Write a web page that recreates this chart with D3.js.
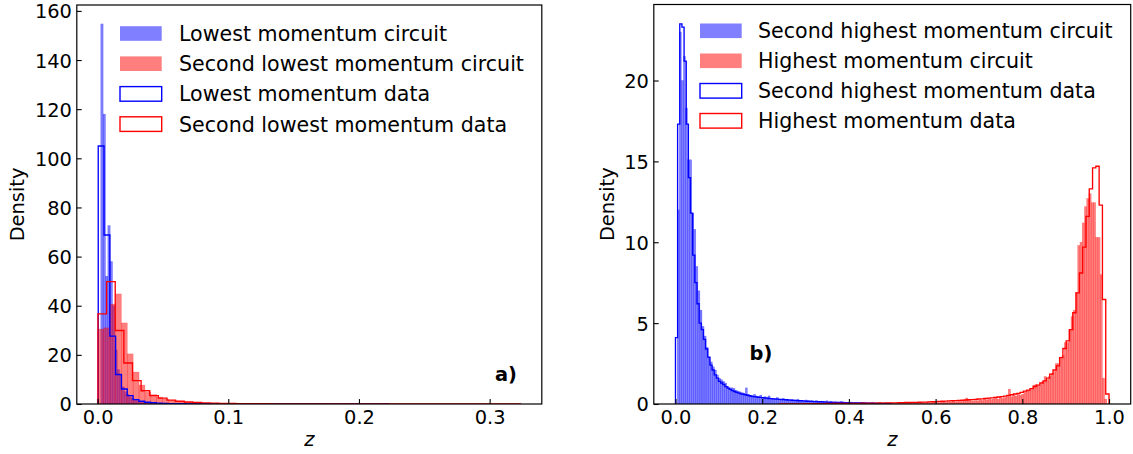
<!DOCTYPE html>
<html><head><meta charset="utf-8">
<script src="https://cdn.jsdelivr.net/npm/d3@7"></script>
<style>
body{margin:0;background:#fff}
svg{display:block}
text{font-family:"DejaVu Sans",sans-serif;fill:#000}
</style>
</head><body>
<svg id="chart" width="1133" height="454"></svg>
<script>
// ---------------- DATA (densities) ----------------
// Panel a)
const lowestCircuitStart = 0.00245, lowestCircuitBin = 0.0018;
const lowestCircuit = [154.7,118,52,72.6,58,40,22,14,12,7,5,4,3,2.5,2,1.5,1.2,1,0.8,0.6,0.5,0.4,0.3,0.25,0.2,0.15,0.1,0.1,0.08,0.06,0.05,0.04,0.03,0.03,0.02,0.02,0.01,0.01,0.01,0.01,0,0.01,0,0,0.01,0,0,0,0,0.01];

const secondLowestCircuitStart = 0.00015, secondLowestCircuitBin = 0.00451;
const secondLowestCircuit = [30.5,31,40.7,44.8,33,20.4,13,7.7,4.8,3.8,2.8,2.0,1.5,1.2,0.9,0.7,0.5,0.4,0.3,0.25,0.2,0.15,0.12,0.1,0.08,0.06,0.05,0.04,0.03,0.03,0.02,0.02,0.01,0.01,0.01,0.01,0.01,0,0.01,0,0,0,0.01,0,0,0,0,0,0,0.01];

const lowestDataStart = 0.0005, lowestDataBin = 0.00444;
const lowestData = [105,68.8,27.6,12,6.1,3.4,1.8,1.1,0.7,0.5,0.35,0.25,0.18,0.13,0.1,0.08,0.06,0.05,0.04,0.03,0.03,0.02,0.02,0.01,0.01,0.01,0.01,0.01,0,0.01,0,0,0.01,0,0,0,0,0,0,0,0,0,0,0,0,0,0,0,0,0.005];

const secondLowestDataStart = 0.0003, secondLowestDataBin = 0.0066;
const secondLowestData = [36.7,49.8,29.9,16.7,9.5,5.4,3.4,2.4,1.6,1.1,0.8,0.6,0.45,0.35,0.28,0.22,0.18,0.14,0.12,0.1,0.08,0.07,0.06,0.05,0.04,0.035,0.03,0.025,0.02,0.02,0.015,0.015,0.01,0.01,0.01,0.008,0.008,0.006,0.005,0.005,0.004,0.004,0.003,0.003,0.003,0.002,0.002,0.002,0.002];

// Panel b)
const secondHighestCircuitStart = 0.004, secondHighestCircuitBin = 0.00476;
const secondHighestCircuit = [12.0,23.0,20.0,21.5,18.3,15.1,15.1,11.8,10.8,8.5,7.0,5.8,4.8,4.2,3.5,2.9,2.6,2.3,2.1,1.8,1.6,1.5,1.4,1.3,1.1,1.0,1.0,0.97,0.85,0.8,0.75,0.7,0.65,1.0,0.6,0.55,0.5,0.6,0.5,0.45,0.55,0.4,0.45,0.4,0.5,0.35,
0.35,0.3,0.4,0.3,0.28,0.35,0.25,0.3,0.22,0.28,0.2,0.25,0.3,0.2,0.22,0.18,0.25,0.2,0.15,0.2,0.18,0.22,0.15,0.12,0.18,0.15,0.2,0.12,0.15,0.1,0.14,0.12,0.1,0.15,0.1,0.12,0.08,0.1,0.12,0.08,0.1,0.07,0.09,0.1,0.06,0.08,0.07,0.05,0.08,0.06,0.05,0.07,0.04,0.05];

const highestCircuitStart = 0.478, highestCircuitBin = 0.00517;
const highestCircuit = [0.01,0.01,0.02,0.01,0.02,0.02,0.03,0.02,0.03,0.04,0.03,0.06,0.04,0.05,0.06,0.07,0.05,0.09,0.06,0.08,0.1,0.07,0.1,0.12,0.08,0.1,0.14,0.12,0.1,0.15,0.12,0.18,0.12,0.15,0.2,0.15,0.18,0.37,0.25,0.2,0.18,0.22,0.2,0.25,0.22,0.3,0.25,0.35,0.28,0.3,0.35,0.3,0.42,0.35,0.4,0.45,0.92,0.45,0.55,0.5,0.65,0.55,0.6,0.75,0.8,0.85,0.9,1.17,1.2,1.1,1.2,1.4,1.7,1.5,1.7,1.9,2.0,2.5,2.5,2.9,3.0,3.8,3.8,4.6,5.4,5.8,6.9,9.8,10.0,11.2,12.2,12.7,13.0,12.45,12.45,10.3,10.3,8.0,1.6,0.3];

const secondHighestDataStart = 0.0, secondHighestDataBin = 0.00496;
const secondHighestData = [4.1,17.3,23.5,23.3,21.2,17.3,14.0,11.8,9.2,7.5,6.2,5.0,4.6,4.0,3.4,2.9,2.4,2.1,1.8,1.6,1.4,1.3,1.2,1.07,0.98,0.9,0.83,0.77,0.72,0.67,0.63,0.6,0.57,0.54,0.51,0.48,0.46,0.44,0.42,0.41,0.39,0.37,0.36,0.34,0.33,0.32,0.31,0.3,0.29,0.28,0.27,0.26,0.25,0.24,0.23,0.22,0.21,0.2,0.2,0.19,0.18,0.17,0.17,0.16,0.15,0.15,0.14,0.14,0.13,0.12,0.12,0.11,0.11,0.1,0.1,0.1,0.09,0.09,0.08,0.08,0.08,0.07,0.07,0.07,0.06,0.06,0.06,0.06,0.05,0.05,0.05,0.05,0.05,0.04,0.04,0.04,0.04,0.04,0.03,0.03];

const highestDataStart = 0.24, highestDataBin = 0.0076;
const highestData = [0.01,0.01,0.01,0.01,0.01,0.01,0.01,0.02,0.01,0.02,0.02,0.02,0.02,0.02,0.03,0.02,0.03,0.03,0.03,0.03,0.04,0.03,0.04,0.04,0.04,0.05,0.04,0.05,0.05,0.05,0.06,0.05,0.06,0.06,0.07,
0.07,0.08,0.08,0.09,0.09,0.1,0.1,0.11,0.12,0.12,0.13,0.14,0.15,0.16,0.17,0.18,0.19,0.2,0.21,0.22,0.23,0.25,0.26,0.27,0.29,0.31,0.32,0.34,0.36,0.38,0.4,0.43,0.46,0.49,0.53,0.57,0.62,0.66,0.72,0.8,0.86,0.95,1.08,1.17,1.3,1.43,1.6,1.85,2.1,2.36,2.87,3.43,3.9,4.6,5.64,6.87,8.1,9.7,11.6,13.3,14.6,14.7,12.3,6.46,0.62];

// Tick labels
const leftXTicks = [0, 0.1, 0.2, 0.3];
const leftYTicks = [0, 20, 40, 60, 80, 100, 120, 140, 160];
const rightXTicks = [0, 0.2, 0.4, 0.6, 0.8, 1.0];
const rightYTicks = [0, 5, 10, 15, 20];

// Legend labels
const leftLabels = ["Lowest momentum circuit", "Second lowest momentum circuit", "Lowest momentum data", "Second lowest momentum data"];
const rightLabels = ["Second highest momentum circuit", "Highest momentum circuit", "Second highest momentum data", "Highest momentum data"];

// ---------------- DRAWING ----------------
const BLUE = "#0000ff", RED = "#ff0000";
const svg = d3.select("#chart");

const panels = [
  {
    id: "a", left: 76.8, right: 541.8, top: 5, bottom: 404,
    xDomain: [-0.0159, 0.3399], yMax: 162.4,
    xTicks: leftXTicks, yTicks: leftYTicks, xFmt: d3.format(".1f"),
    fills: [
      {start: lowestCircuitStart, bin: lowestCircuitBin, values: lowestCircuit, color: BLUE},
      {start: secondLowestCircuitStart, bin: secondLowestCircuitBin, values: secondLowestCircuit, color: RED}
    ],
    steps: [
      {start: lowestDataStart, bin: lowestDataBin, values: lowestData, color: BLUE},
      {start: secondLowestDataStart, bin: secondLowestDataBin, values: secondLowestData, color: RED}
    ],
    labels: leftLabels, legHandleX: 120, legTextX: 179, legRow0: 33.5, legStep: 30.2,
    tag: "a)", tagX: 495, tagY: 381, ylabX: 24
  },
  {
    id: "b", left: 653.8, right: 1130.7, top: 4.5, bottom: 404,
    xDomain: [-0.05, 1.05], yMax: 24.7,
    xTicks: rightXTicks, yTicks: rightYTicks, xFmt: d3.format(".1f"),
    fills: [
      {start: secondHighestCircuitStart, bin: secondHighestCircuitBin, values: secondHighestCircuit, color: BLUE},
      {start: highestCircuitStart, bin: highestCircuitBin, values: highestCircuit, color: RED}
    ],
    steps: [
      {start: secondHighestDataStart, bin: secondHighestDataBin, values: secondHighestData, color: BLUE},
      {start: highestDataStart, bin: highestDataBin, values: highestData, color: RED}
    ],
    labels: rightLabels, legHandleX: 700, legTextX: 758, legRow0: 30.8, legStep: 30.0,
    tag: "b)", tagX: 749.5, tagY: 360, ylabX: 614
  }
];

panels.forEach(p => {
  const x = d3.scaleLinear().domain(p.xDomain).range([p.left, p.right]);
  const y = d3.scaleLinear().domain([0, p.yMax]).range([p.bottom, p.top]);
  const g = svg.append("g");

  const clipId = "clip-" + p.id;
  svg.append("defs").append("clipPath").attr("id", clipId)
    .append("rect").attr("x", p.left).attr("y", p.top)
    .attr("width", p.right - p.left).attr("height", p.bottom - p.top);
  const plot = g.append("g").attr("clip-path", `url(#${clipId})`);

  // filled histograms (thin same-colour edge mimics the antialiased seams between bars)
  p.fills.forEach(s => {
    const bins = s.values.map((v, i) => ({x0: s.start + i * s.bin, x1: s.start + (i + 1) * s.bin, v}))
      .filter(b => b.v > 0);
    plot.append("g").selectAll("rect").data(bins).join("rect")
      .attr("x", b => x(b.x0))
      .attr("width", b => x(b.x1) - x(b.x0))
      .attr("y", b => y(b.v))
      .attr("height", b => y(0) - y(b.v))
      .attr("fill", s.color)
      .attr("fill-opacity", 0.5)
      .attr("stroke", s.color)
      .attr("stroke-opacity", 0.35)
      .attr("stroke-width", 0.5);
  });

  // step histograms
  p.steps.forEach(s => {
    const pts = [[s.start, 0]];
    s.values.forEach((v, i) => {
      pts.push([s.start + i * s.bin, v]);
      pts.push([s.start + (i + 1) * s.bin, v]);
    });
    pts.push([s.start + s.values.length * s.bin, 0]);
    plot.append("path")
      .attr("d", d3.line().x(d => x(d[0])).y(d => y(d[1]))(pts))
      .attr("fill", "none")
      .attr("stroke", s.color)
      .attr("stroke-width", 1.35)
      .attr("stroke-linejoin", "miter");
  });

  // axes
  const xAxis = d3.axisBottom(x).tickValues(p.xTicks).tickFormat(p.xFmt)
    .tickSizeInner(-4.9).tickSizeOuter(0).tickPadding(6.3);
  const gx = g.append("g").attr("transform", `translate(0,${p.bottom})`).call(xAxis);
  const yAxis = d3.axisLeft(y).tickValues(p.yTicks).tickFormat(d3.format("d"))
    .tickSizeInner(-4.9).tickSizeOuter(0).tickPadding(4.9);
  const gy = g.append("g").attr("transform", `translate(${p.left},0)`).call(yAxis);
  [gx, gy].forEach(a => {
    a.select(".domain").remove();
    a.selectAll(".tick line").attr("stroke", "#000").attr("stroke-width", 1.1);
    a.selectAll(".tick text").attr("font-size", "19.4px")
      .attr("font-family", "DejaVu Sans").attr("fill", "#000");
  });
  gy.selectAll(".tick text").attr("dy", "0.36em");

  // frame
  g.append("rect").attr("x", p.left).attr("y", p.top)
    .attr("width", p.right - p.left).attr("height", p.bottom - p.top)
    .attr("fill", "none").attr("stroke", "#000").attr("stroke-width", 1.2);

  // axis labels
  g.append("text").attr("x", (p.left + p.right) / 2).attr("y", 446)
    .attr("text-anchor", "middle").attr("font-size", "19.4px")
    .attr("font-style", "italic").text("z");
  g.append("text")
    .attr("transform", `translate(${p.ylabX},${(p.top + p.bottom) / 2}) rotate(-90)`)
    .attr("text-anchor", "middle").attr("font-size", "19.4px").text("Density");

  // panel tag
  g.append("text").attr("x", p.tagX).attr("y", p.tagY)
    .attr("font-size", "19.4px").attr("font-weight", "bold").text(p.tag);

  // legend
  const styles = [
    {fill: BLUE, op: 0.5, stroke: "none"},
    {fill: RED, op: 0.5, stroke: "none"},
    {fill: "none", op: 1, stroke: BLUE},
    {fill: "none", op: 1, stroke: RED}
  ];
  const leg = g.append("g");
  p.labels.forEach((lab, i) => {
    const cy = p.legRow0 + i * p.legStep;
    const st = styles[i];
    leg.append("rect").attr("x", p.legHandleX).attr("y", cy - 7.3)
      .attr("width", 41.7).attr("height", 14.6)
      .attr("fill", st.fill).attr("fill-opacity", st.op)
      .attr("stroke", st.stroke).attr("stroke-width", 1.4);
    leg.append("text").attr("x", p.legTextX).attr("y", cy).attr("dy", "0.36em")
      .attr("font-size", "20.6px").text(lab);
  });
});
</script>
</body></html>
